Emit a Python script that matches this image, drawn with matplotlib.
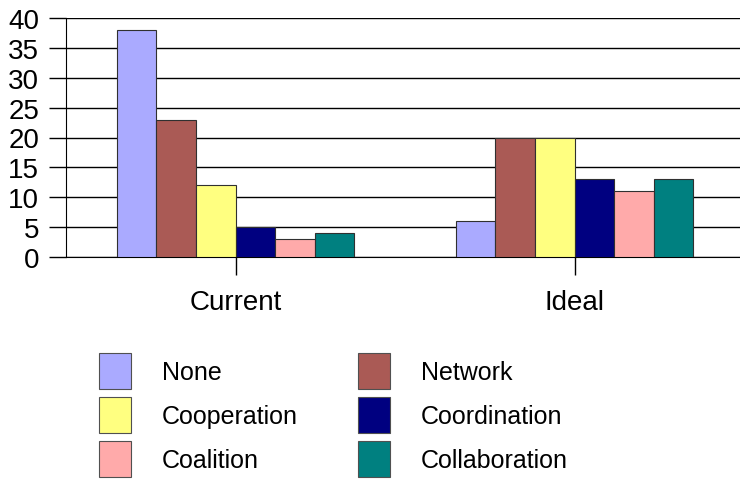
import matplotlib
matplotlib.use("Agg")
import matplotlib.pyplot as plt
import numpy as np

plt.rcParams['font.family'] = ['Liberation Sans', 'DejaVu Sans']

categories = ['Current', 'Ideal']
series = ['None', 'Network', 'Cooperation', 'Coordination', 'Coalition', 'Collaboration']
values = {
    'None': [38, 6],
    'Network': [23, 20],
    'Cooperation': [12, 20],
    'Coordination': [5, 13],
    'Coalition': [3, 11],
    'Collaboration': [4, 13],
}
colors = ['#AAAAFF', '#AA5A55', '#FFFF80', '#000080', '#FFAAAA', '#008080']
yticks = [0, 5, 10, 15, 20, 25, 30, 35, 40]

W, H = 740, 481
fig = plt.figure(figsize=(W / 100, H / 100), dpi=100)
ax = fig.add_axes([66 / W, (H - 258) / H, (744 - 66) / W, (258 - 19) / H])

x = np.arange(len(categories))
width = 0.117
bars = []
for i, name in enumerate(series):
    offs = (i - (len(series) - 1) / 2) * width
    b = ax.bar(x + offs, values[name], width, color=colors[i],
               edgecolor='#303030', linewidth=0.8, label=name, zorder=3)
    bars.append(b)

ax.set_xlim(-0.5, 1.5)
ax.set_ylim(0, 40)
ax.set_yticks(yticks)
ax.set_xticks(x)
ax.set_xticklabels(categories)
ax.yaxis.grid(True, color='black', linewidth=1.0, zorder=0)
ax.set_axisbelow(True)
for s in ['top', 'right']:
    ax.spines[s].set_visible(False)
ax.spines['left'].set_color('black')
ax.spines['bottom'].set_color('black')
ax.tick_params(axis='y', length=12.2, width=1.0, pad=7, labelsize=20)
ax.tick_params(axis='x', length=13, width=1.0, pad=10, labelsize=20)

# legend: column-major fill, so reorder to match the two-column layout
order = [0, 2, 4, 1, 3, 5]
handles = [bars[i] for i in order]
labels = [series[i] for i in order]
leg = fig.legend(handles, labels, ncol=2, frameon=False, fontsize=18,
                 loc='upper left', bbox_to_anchor=(99 / W, 1 - 354 / H),
                 borderpad=0, borderaxespad=0, handlelength=1.28, handleheight=1.84,
                 handletextpad=1.24, labelspacing=0.32, columnspacing=2.4)
for p in leg.get_patches():
    p.set_edgecolor('#505050')

fig.savefig('out.png', dpi=100, facecolor='white')
